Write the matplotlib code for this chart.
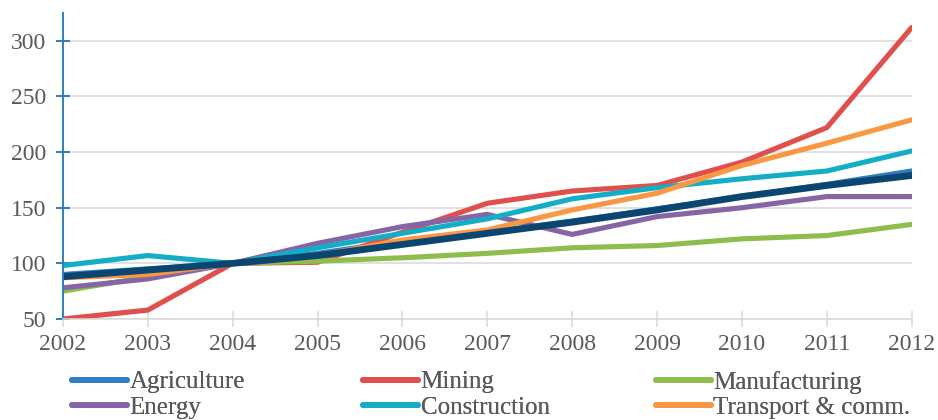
import matplotlib
import matplotlib.pyplot as plt

matplotlib.use("Agg")

# sector output index, 2004 = 100
years = [2002, 2003, 2004, 2005, 2006, 2007, 2008, 2009, 2010, 2011, 2012]
agriculture = [90, 95, 100, 109, 120, 128, 138, 149, 160, 171, 183]
mining = [50, 58, 100, 101, 128, 154, 165, 170, 191, 222, 312]
manufacturing = [75, 88, 100, 102, 105, 109, 114, 116, 122, 125, 135]
energy = [78, 86, 100, 118, 133, 144, 126, 142, 150, 160, 160]
construction = [98, 107, 100, 114, 127, 140, 158, 168, 176, 183, 201]
transport = [87, 90, 100, 107, 121, 130, 148, 163, 188, 208, 229]
total = [88, 94, 100, 107, 117, 127, 137, 148, 160, 170, 179]

series = [
    ("Agriculture", agriculture, "#2f7ec0"),
    ("Mining", mining, "#df4f4c"),
    ("Manufacturing", manufacturing, "#8dbd4c"),
    ("Energy", energy, "#8565a6"),
    ("Construction", construction, "#14adc6"),
    ("Transport & comm.", transport, "#f99743"),
]

plt.rcParams["font.family"] = ["Liberation Serif", "DejaVu Serif"]
text_color = "#595959"
grid_color = "#d9d9d9"
axis_blue = "#2f7ec0"

fig = plt.figure(figsize=(9.38, 4.2), dpi=100)
ax = fig.add_axes([0.067, 0.2405, 0.905, 0.7286])

handles = {}
for name, values, color in series:
    (line,) = ax.plot(years, values, color=color, lw=3.7, label=name,
                      solid_capstyle="round", solid_joinstyle="round")
    handles[name] = line
ax.plot(years, total, color="#0b4670", lw=4.9,
        solid_capstyle="round", solid_joinstyle="round")

ax.set_xlim(2002, 2012)
ax.set_ylim(50, 325)
ax.set_xticks(years)
ax.set_yticks([50, 100, 150, 200, 250, 300])

ax.grid(axis="y", color=grid_color, lw=1.1)
ax.set_axisbelow(True)
for side in ("top", "right"):
    ax.spines[side].set_visible(False)
ax.spines["bottom"].set_color(grid_color)
ax.spines["bottom"].set_linewidth(1.1)
ax.spines["left"].set_color(axis_blue)
ax.spines["left"].set_linewidth(1.4)

ax.tick_params(axis="x", direction="inout", length=11, width=1.1,
               color=grid_color, labelcolor=text_color, labelsize=17, pad=5)
ax.tick_params(axis="y", direction="inout", length=10, width=1.4,
               color=axis_blue, labelcolor=text_color, labelsize=17, pad=7)

# three legend columns at fixed offsets
columns = [
    (0.0768, ["Agriculture", "Energy"]),
    (0.387, ["Mining", "Construction"]),
    (0.699, ["Manufacturing", "Transport & comm."]),
]
for x, names in columns:
    leg = fig.legend([handles[n] for n in names], names, loc="center left",
                     bbox_to_anchor=(x, 0.060), frameon=False, fontsize=18,
                     borderpad=0, borderaxespad=0, handlelength=2.2,
                     handletextpad=0.1, labelspacing=0.12)
    for t in leg.get_texts():
        t.set_color(text_color)
    for h in leg.legend_handles:
        h.set_linewidth(4.2)
    fig.add_artist(leg)

fig.savefig("out.png", dpi=100)
